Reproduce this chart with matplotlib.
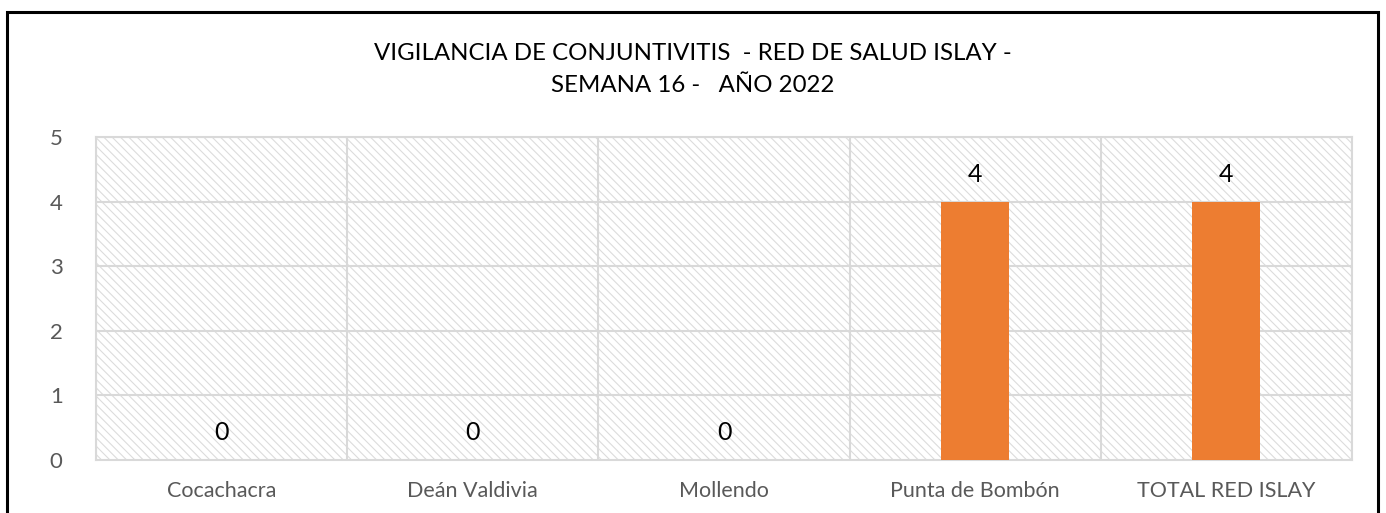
import matplotlib
matplotlib.use("Agg")
import matplotlib.pyplot as plt
from matplotlib.patches import Rectangle

categories = ["Cocachacra", "Deán Valdivia", "Mollendo", "Punta de Bombón", "TOTAL RED ISLAY"]
values = [0, 0, 0, 4, 4]
yticks = [0, 1, 2, 3, 4, 5]
title = "VIGILANCIA DE CONJUNTIVITIS  - RED DE SALUD ISLAY -\nSEMANA 16 -   AÑO 2022"

plt.rcParams['font.family'] = ['Lato', 'DejaVu Sans']
plt.rcParams['hatch.linewidth'] = 0.8
plt.rcParams['hatch.color'] = '#dcdcdc'

fig = plt.figure(figsize=(13.86, 5.13), dpi=100)
ax = fig.add_axes([96/1386, 1 - 460/513, (1352 - 96)/1386, (460 - 137)/513])

grid_c = '#d9d9d9'
bg = Rectangle((0, 0), 1, 1, transform=ax.transAxes, facecolor='white',
               edgecolor='#dcdcdc', hatch='\\\\\\\\', linewidth=0, zorder=0)
ax.add_patch(bg)

x = list(range(len(categories)))
ax.bar(x, values, width=0.27, color='#ed7d31', zorder=3)

for xi, v in zip(x, values):
    ax.annotate(str(v), (xi, v), xytext=(0, 19.5), textcoords='offset points',
                ha='center', va='center', fontsize=18, color='black', zorder=4)

ax.set_xlim(-0.5, len(categories) - 0.5)
ax.set_ylim(0, 5)
ax.set_yticks(yticks)
ax.set_xticks(x)
ax.set_xticklabels(categories)
ax.tick_params(axis='both', length=0, labelsize=15.5, colors='#595959')
ax.tick_params(axis='x', pad=15)
ax.tick_params(axis='y', pad=24)
for lab in ax.get_yticklabels():
    lab.set_fontsize(16)

for b in [i - 0.5 for i in range(len(categories) + 1)]:
    ax.axvline(b, color=grid_c, linewidth=1.5, zorder=1)
for t in yticks[1:]:
    ax.axhline(t, color=grid_c, linewidth=1.5, zorder=1)

for s in ax.spines.values():
    s.set_color(grid_c)
    s.set_linewidth(1.5)

fig.text(0.5, 1 - 69.5/513, title, ha='center', va='center', fontsize=17.3,
         linespacing=1.6, color='black')

frame = Rectangle((7/1386, -0.05), (1378 - 7)/1386, 1 - 12/513 + 0.05,
                  transform=fig.transFigure, fill=False, edgecolor='black',
                  linewidth=2.2, clip_on=False)
fig.add_artist(frame)

fig.savefig("out.png", dpi=100)
